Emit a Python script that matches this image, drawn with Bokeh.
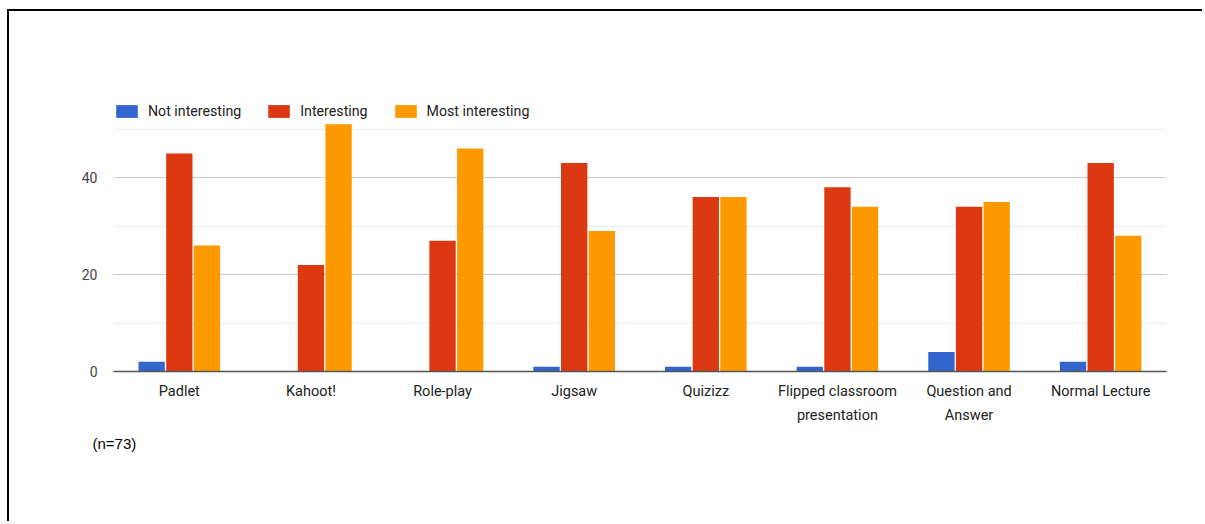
from bokeh.plotting import figure
from bokeh.models import ColumnDataSource, FactorRange, Range1d, FixedTicker, Legend, LegendItem, Title
from bokeh.transform import dodge
from bokeh.embed import file_html
from bokeh.resources import INLINE

categories = ["Padlet", "Kahoot!", "Role-play", "Jigsaw", "Quizizz",
              "Flipped classroom\npresentation", "Question and\nAnswer", "Normal Lecture"]
not_interesting = [2, 0, 0, 1, 1, 1, 4, 2]
interesting = [45, 22, 27, 43, 36, 38, 34, 43]
most_interesting = [26, 51, 46, 29, 36, 34, 35, 28]
series_names = ["Not interesting", "Interesting", "Most interesting"]
series_colors = ["#3366cc", "#dc3912", "#ff9900"]
y_ticks = [0, 20, 40]
y_minor_ticks = [10, 30, 50]
note_text = "(n=73)"

src = ColumnDataSource(dict(cat=categories, ni=not_interesting, i=interesting, mi=most_interesting))

p = figure(width=1195, height=512, x_range=FactorRange(*categories), y_range=Range1d(0, 55.3),
           output_backend="svg", toolbar_location=None,
           min_border_left=104, min_border_right=38, min_border_top=92, min_border_bottom=152)
p.margin = (9, 0, 0, 7)
p.styles = {"border-left": "2px solid black", "border-top": "2px solid black"}
p.outline_line_color = None
p.background_fill_color = "white"
p.border_fill_color = "white"

offsets = [-0.21, 0.0, 0.21]
cols = ["ni", "i", "mi"]
renderers = []
for off, col, color in zip(offsets, cols, series_colors):
    r = p.vbar(x=dodge("cat", off, range=p.x_range), top=col, width=0.2, source=src,
               fill_color=color, line_color=None)
    renderers.append(r)

legend = Legend(items=[LegendItem(label=n, renderers=[r]) for n, r in zip(series_names, renderers)],
                location="top_left", orientation="horizontal", glyph_width=27, glyph_height=16,
                label_standoff=8, spacing=24, padding=0, margin=0,
                border_line_color=None, background_fill_alpha=0,
                label_text_font="Roboto", label_text_font_size="14.2px", label_text_color="#222222")
p.add_layout(legend)

ticker = FixedTicker(ticks=y_ticks, minor_ticks=y_minor_ticks)
p.yaxis.ticker = ticker
p.ygrid.ticker = ticker
p.yaxis.axis_line_color = None
p.yaxis.major_tick_line_color = None
p.yaxis.minor_tick_line_color = None
p.yaxis.major_tick_out = 0
p.yaxis.major_tick_in = 0
p.yaxis.major_label_standoff = 12
p.yaxis.major_label_text_font = "Roboto"
p.yaxis.major_label_text_font_size = "14px"
p.yaxis.major_label_text_color = "#444444"
p.ygrid.grid_line_color = "#cccccc"
p.ygrid.minor_grid_line_color = "#ebebeb"
p.xgrid.grid_line_color = None

p.xaxis.axis_line_color = "#555555"
p.xaxis.axis_line_width = 1.5
p.xaxis.major_tick_line_color = None
p.xaxis.minor_tick_line_color = None
p.xaxis.major_tick_out = 0
p.xaxis.major_tick_in = 0
p.xaxis.major_label_standoff = 11
p.xaxis.major_label_text_font = "Roboto"
p.xaxis.major_label_text_font_size = "14.5px"
p.xaxis.major_label_text_color = "#222222"
p.xaxis.major_label_text_line_height = 1.42

note = Title(text=note_text, align="left", offset=-21, standoff=13,
             text_font="Liberation Sans", text_font_size="15px", text_color="black",
             text_font_style="normal")
p.add_layout(note, "below")

open("out.html", "w").write(file_html(p, INLINE))
